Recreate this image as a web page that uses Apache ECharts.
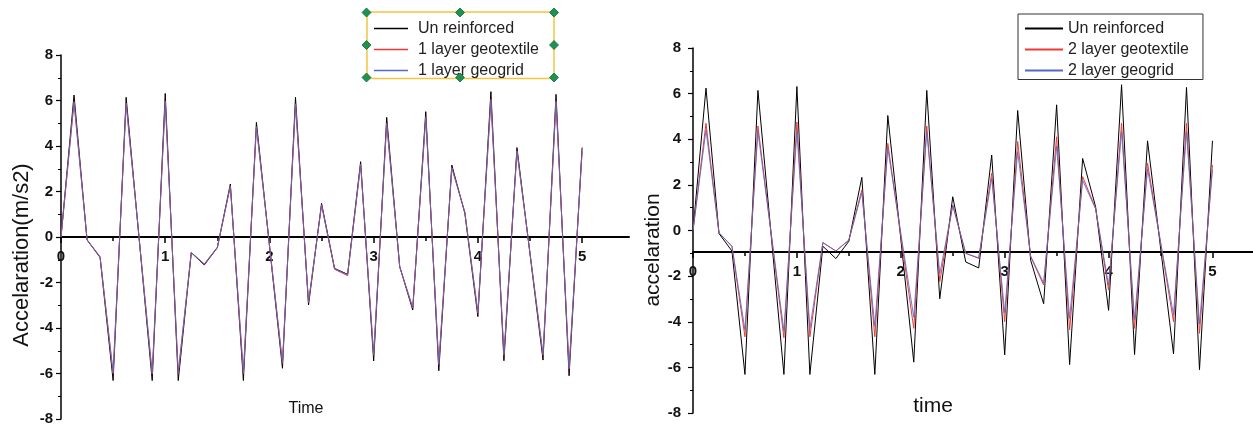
<!DOCTYPE html>
<html>
<head>
<meta charset="utf-8">
<script src="https://cdn.jsdelivr.net/npm/echarts@6/dist/echarts.min.js"></script>
<style>
html,body{margin:0;padding:0;background:#fff;}
#chart{width:1253px;height:427px;}
</style>
</head>
<body>
<div id="chart"></div>
<script>
// ---- data ----
const times = [0, 0.125, 0.25, 0.375, 0.5, 0.625, 0.875, 1.0, 1.125, 1.25, 1.375, 1.5, 1.625, 1.75, 1.875,
  2.125, 2.25, 2.375, 2.5, 2.625, 2.75, 2.875, 3.0, 3.125, 3.25, 3.375, 3.5, 3.625, 3.75, 3.875,
  4.0, 4.125, 4.25, 4.375, 4.625, 4.75, 4.875, 5.0];
const unReinforced = [0, 6.24, -0.13, -0.9, -6.31, 6.14, -6.31, 6.31, -6.31, -0.69, -1.23, -0.47, 2.33, -6.31, 5.04,
  -5.77, 6.14, -2.99, 1.48, -1.38, -1.64, 3.31, -5.45, 5.26, -1.3, -3.21, 5.51, -5.88, 3.16, 1.04,
  -3.5, 6.39, -5.44, 3.93, -5.41, 6.27, -6.1, 3.93];
const geotextile1 = [0, 5.95, -0.12, -0.88, -6.0, 5.88, -6.02, 5.98, -6.0, -0.68, -1.2, -0.46, 2.25, -6.0, 4.85,
  -5.55, 5.85, -2.88, 1.42, -1.42, -1.7, 3.2, -5.2, 5.0, -1.32, -3.12, 5.28, -5.6, 3.05, 1.1,
  -3.35, 6.05, -5.2, 3.78, -5.2, 5.97, -5.8, 3.78];
const geogrid1 = [0, 5.9, -0.12, -0.87, -5.95, 5.85, -5.98, 5.95, -5.95, -0.68, -1.18, -0.45, 2.22, -5.95, 4.82,
  -5.5, 5.82, -2.85, 1.4, -1.4, -1.66, 3.18, -5.15, 4.98, -1.3, -3.1, 5.25, -5.55, 3.02, 1.08,
  -3.3, 6.0, -5.15, 3.75, -5.15, 5.92, -5.75, 3.75];
const geotextile2 = [0, 4.7, -0.1, -0.7, -4.66, 4.58, -4.7, 4.75, -4.66, -0.53, -0.9, -0.42, 1.78, -4.66, 3.82,
  -4.29, 4.58, -2.24, 1.12, -1.0, -1.22, 2.51, -4.0, 3.9, -1.15, -2.39, 4.11, -4.36, 2.36, 0.97,
  -2.61, 4.7, -4.29, 2.95, -4.0, 4.7, -4.51, 2.87];
const geogrid2 = [0, 4.41, -0.1, -0.68, -4.36, 4.33, -4.4, 4.33, -4.3, -0.53, -0.9, -0.42, 1.66, -4.2, 3.6,
  -3.8, 4.33, -1.9, 1.1, -1.0, -1.2, 2.29, -3.6, 3.46, -1.12, -2.3, 3.7, -3.85, 2.2, 0.95,
  -2.4, 4.33, -3.9, 2.7, -3.7, 4.33, -4.1, 2.66];
const xMajorTicks = [0, 1, 2, 3, 4, 5];
const xMinorTicks = [0.5, 1.5, 2.5, 3.5, 4.5];
const seriesNamesLeft = ['Un reinforced', '1 layer geotextile', '1 layer geogrid'];
const seriesNamesRight = ['Un reinforced', '2 layer geotextile', '2 layer geogrid'];

// ---- chart ----
const FONT = 'Liberation Sans, Arial, sans-serif';
const pair = (vals) => times.map((t, i) => [t, vals[i]]);
const chart = echarts.init(document.getElementById('chart'), null, {renderer: 'canvas'});

function mainX(gridIndex, max, offset, name, nameGap, nameSize, namePadRight) {
  return {
    type: 'value', gridIndex, min: 0, max, position: 'bottom', offset,
    axisLine: {show: true, onZero: false, lineStyle: {color: '#000', width: 2}},
    axisTick: {show: true, customValues: xMajorTicks, length: 6, lineStyle: {color: '#000', width: 1.5}},
    axisLabel: {customValues: xMajorTicks, margin: 12, fontSize: 15, fontWeight: 'bold', fontFamily: FONT, color: '#111'},
    splitLine: {show: false},
    name, nameLocation: 'middle', nameGap,
    nameTextStyle: {fontSize: nameSize, fontFamily: FONT, color: '#111', padding: [0, namePadRight, 0, 0]}
  };
}
function minorX(gridIndex, max, offset) {
  return {
    type: 'value', gridIndex, min: 0, max, position: 'bottom', offset,
    axisLine: {show: false, onZero: false},
    axisTick: {show: true, customValues: xMinorTicks, length: 4, lineStyle: {color: '#000', width: 1.5}},
    axisLabel: {show: false},
    splitLine: {show: false}
  };
}
function yAx(gridIndex, name, nameSize, margin, padRight) {
  return {
    type: 'value', gridIndex, min: -8, max: 8, interval: 2,
    axisLine: {show: true, onZero: false, lineStyle: {color: '#000', width: 1.5}},
    axisTick: {show: true, length: 5, lineStyle: {color: '#000', width: 1.2}},
    minorTick: {show: true, splitNumber: 2, length: 3, lineStyle: {color: '#000', width: 1}},
    axisLabel: {margin, fontSize: 15, fontWeight: 'bold', fontFamily: FONT, color: '#111'},
    splitLine: {show: false},
    name, nameLocation: 'middle', nameGap: 28,
    nameTextStyle: {fontSize: nameSize, fontFamily: FONT, color: '#111', padding: [0, padRight, 0, 0]}
  };
}
function line(name, vals, xi, yi, color, opacity) {
  return {
    name, type: 'line', xAxisIndex: xi, yAxisIndex: yi, data: pair(vals),
    symbol: 'none', showSymbol: false, silent: true, animation: false,
    lineStyle: {color, width: 1, opacity}, itemStyle: {color}
  };
}

const handlePts = [[366.5, 12.5], [460, 12.5], [554, 12.5], [366.5, 45], [554, 45], [366.5, 77.5], [460, 77.5], [554, 77.5]];
const handles = handlePts.map(p => ({
  type: 'polygon', z: 100,
  shape: {points: [[p[0], p[1] - 4.5], [p[0] + 4.5, p[1]], [p[0], p[1] + 4.5], [p[0] - 4.5, p[1]]]},
  style: {fill: '#1d9350', stroke: '#0e6a35', lineWidth: 0.8}
}));

const LEGEND_ICON = 'path://M0,0H34V1.6H0Z';
const option = {
  animation: false,
  backgroundColor: '#fff',
  grid: [
    {left: 61, top: 55, width: 568, height: 364, containLabel: false, outerBoundsMode: 'none'},
    {left: 693, top: 48, width: 560, height: 365, containLabel: false, outerBoundsMode: 'none'}
  ],
  xAxis: [
    mainX(0, 5.45, -182, 'Time', 164, 16, 78),
    minorX(0, 5.45, -182),
    mainX(1, 5.39, -161, 'time', 144, 21, 80),
    minorX(1, 5.39, -161)
  ],
  yAxis: [
    yAx(0, 'Accelaration(m/s2)', 22, 8, 36),
    yAx(1, 'accelaration', 21, 12, 39)
  ],
  legend: [
    {
      data: seriesNamesLeft, orient: 'vertical', left: 367, top: 12, icon: LEGEND_ICON,
      itemWidth: 34, itemHeight: 16, itemGap: 5, padding: [8.5, 15, 0, 7],
      borderColor: '#f5c542', borderWidth: 1.5, selectedMode: false,
      textStyle: {fontSize: 16, fontFamily: FONT, color: '#222', padding: [0, 0, 0, 5]}
    },
    {
      data: seriesNamesRight, orient: 'vertical', left: 1018, top: 14, icon: LEGEND_ICON,
      itemWidth: 38, itemHeight: 16, itemGap: 5, padding: [6.5, 14, 1, 7],
      borderColor: '#333', borderWidth: 1, selectedMode: false,
      textStyle: {fontSize: 16, fontFamily: FONT, color: '#222'}
    }
  ],
  graphic: handles,
  series: [
    line(seriesNamesLeft[0], unReinforced, 0, 0, '#000000', 1),
    line(seriesNamesLeft[1], geotextile1, 0, 0, '#f03838', 1),
    line(seriesNamesLeft[2], geogrid1, 0, 0, '#5468c8', 0.85),
    line(seriesNamesRight[0], unReinforced, 2, 1, '#000000', 1),
    line(seriesNamesRight[1], geotextile2, 2, 1, '#f03838', 1),
    line(seriesNamesRight[2], geogrid2, 2, 1, '#5468c8', 0.85)
  ]
};
chart.setOption(option);
</script>
</body>
</html>
